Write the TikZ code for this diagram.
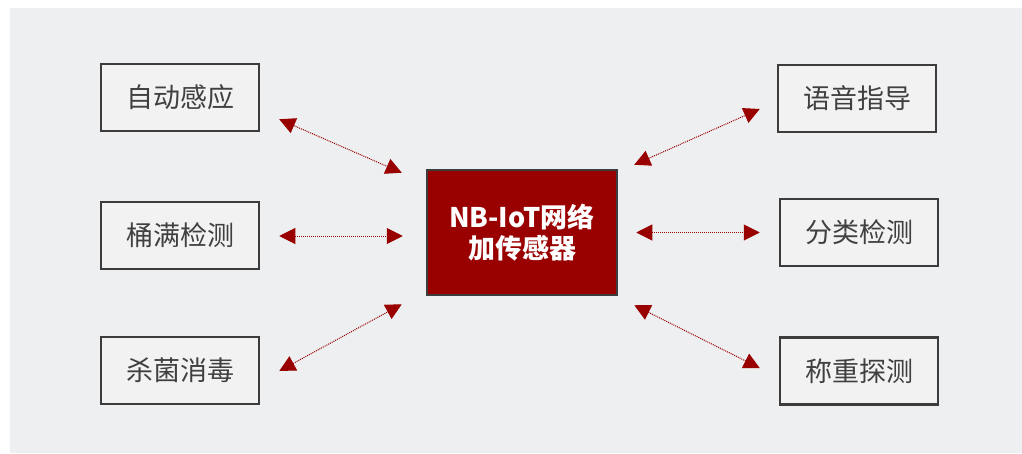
\documentclass[tikz,border=0pt]{standalone}
\usepackage{fontspec}
\setmainfont{Noto Sans CJK SC}
\newfontfamily\cjk{Noto Sans CJK SC}
\usetikzlibrary{arrows.meta}
\definecolor{bggray}{HTML}{EEEFF1}
\definecolor{boxfill}{HTML}{F2F2F2}
\definecolor{boxline}{HTML}{3C3C3C}
\definecolor{darkred}{HTML}{990000}
\definecolor{txtgray}{HTML}{404040}
\tikzset{
  featbox/.style={draw=boxline, line width=2.5pt, fill=boxfill, minimum width=158pt, minimum height=67pt, inner sep=0pt, font=\cjk\fontsize{27}{32}\selectfont, text=txtgray},
  corebox/.style={draw=boxline, line width=2.5pt, fill=darkred, minimum width=190pt, minimum height=125pt, inner sep=0pt, align=center, font=\cjk\bfseries\fontsize{27}{31}\selectfont, text=white},
  link/.style={draw=darkred, line width=1pt, densely dotted, {Triangle[length=16pt,width=16pt]}-{Triangle[length=16pt,width=16pt]}}
}
\begin{document}
\begin{tikzpicture}[x=1pt,y=-1pt]
\fill[white] (0,0) rectangle (1022,453);
\fill[bggray] (10,8) rectangle (1022,453);
\useasboundingbox (0,0) rectangle (1022,453);

\node[corebox] (core) at (522,232.5) {NB-IoT网络\\加传感器};

\node[featbox] (zdgy) at (180,97.5) {自动感应};
\node[featbox] (tmjc) at (180,235.5) {桶满检测};
\node[featbox] (sjxd) at (180,370.5) {杀菌消毒};
\node[featbox] (yyzd) at (857,98.5) {语音指导};
\node[featbox] (fljc) at (859,232.5) {分类检测};
\node[featbox] (czts) at (859,371) {称重探测};

\draw[link] ([shift={(19,-13)}]zdgy.south east) -- ([shift={(-24,4)}]core.north west);
\draw[link] ([shift={(19,0.5)}]tmjc.east) -- ([shift={(-23,3.5)}]core.west);
\draw[link] ([shift={(19,0.5)}]sjxd.east) -- ([shift={(-24,8)}]core.south west);
\draw[link] ([shift={(16,-4)}]core.north east) -- ([shift={(-17,10.5)}]yyzd.west);
\draw[link] ([shift={(18,0)}]core.east) -- ([shift={(-19,0)}]fljc.west);
\draw[link] ([shift={(16,9)}]core.south east) -- ([shift={(-19,-3)}]czts.west);
\end{tikzpicture}
\end{document}
